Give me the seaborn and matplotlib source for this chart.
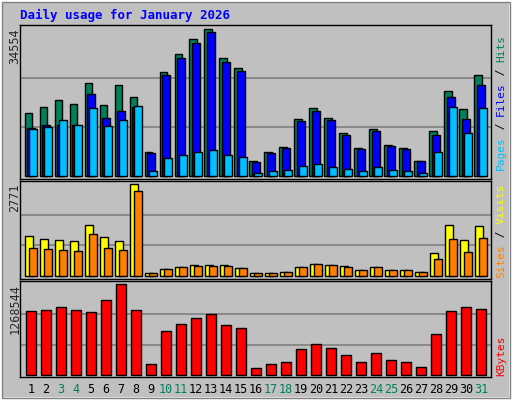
import numpy as np
import pandas as pd
import matplotlib
matplotlib.use("Agg")
import matplotlib.pyplot as plt
import seaborn as sns
from matplotlib.patches import Rectangle

days = list(range(1, 32))
weekend = [3, 4, 10, 11, 17, 18, 24, 25, 31]

hits = [14805, 16215, 17860, 16920, 21855, 16685, 21385, 18565, 5640, 24440, 28670, 32195, 34554, 27730, 25380,
        3525, 5640, 6815, 13395, 15980, 13630, 10105, 6580, 11045, 7285, 6580, 3525, 10575, 19975, 15745, 23735]
files = [11280, 11985, 11985, 11985, 19270, 13630, 15275, 16215, 5405, 23735, 27730, 31255, 33840, 26790, 24675,
         3290, 5405, 6580, 12925, 15275, 13160, 9635, 6345, 10575, 7050, 6345, 3525, 9635, 18565, 13395, 21385]
pages = [11045, 11515, 13160, 11985, 15980, 11750, 13160, 16450, 1175, 4230, 4935, 5640, 6110, 4935, 4465,
         705, 1175, 1410, 2350, 2820, 2115, 1645, 1175, 2115, 1410, 1175, 705, 5640, 16215, 10105, 15980]
sites = [1200, 1109, 1078, 1048, 1532, 1169, 1048, 2771, 81, 202, 262, 323, 323, 323, 232,
         81, 81, 111, 262, 353, 323, 292, 171, 262, 171, 171, 111, 685, 1532, 1078, 1502]
visits = [837, 806, 776, 746, 1260, 837, 776, 2560, 81, 202, 262, 292, 292, 292, 232,
          81, 81, 111, 262, 353, 323, 262, 171, 262, 171, 171, 111, 504, 1109, 716, 1139]
kbytes = [892000, 906000, 948000, 906000, 878000, 1046000, 1268544, 906000, 153000, 613000, 711000, 795000,
          850000, 697000, 655000, 98000, 153000, 181000, 362000, 432000, 376000, 279000, 181000, 307000,
          209000, 181000, 112000, 572000, 892000, 948000, 920000]

BG = "#c0c0c0"
sns.set_style("white")
plt.rcParams["font.family"] = ["DejaVu Sans Mono", "DejaVu Sans"]

fig = plt.figure(figsize=(5.12, 4.0), dpi=100, facecolor=BG)
# outer 3d border
fig.patches.append(Rectangle((0, 0), 1, 1, transform=fig.transFigure, fill=False, ec="white", lw=4))
fig.patches.append(Rectangle((0.004, 0.004), 0.992, 0.992, transform=fig.transFigure, fill=False, ec="#808080", lw=1))

W = 512.0
H = 400.0


def make_ax(top, bottom):
    ax = fig.add_axes([20 / W, (H - bottom) / H, 471 / W, (bottom - top) / H])
    ax.set_facecolor(BG)
    for s in ax.spines.values():
        s.set_color("black")
        s.set_linewidth(1)
    ax.set_xlim(0.267, 31.67)
    return ax


def draw(ax, vals, offset, width, color, zorder):
    df = pd.DataFrame({"x": [d + offset for d in days], "y": vals})
    sns.barplot(data=df, x="x", y="y", native_scale=True, width=width, color=color,
                edgecolor="black", linewidth=1, saturation=1, ax=ax, zorder=zorder, errorbar=None)


def grid(ax, vmax):
    for f in (1 / 3, 2 / 3):
        ax.axhline(vmax * f, color="#808080", lw=1.2, zorder=0)


# top panel
ax1 = make_ax(25, 179)
grid(ax1, 34554)
draw(ax1, hits, -0.167, 0.53, "#00805c", 2)
draw(ax1, files, 0.0, 0.53, "#0000ff", 3)
draw(ax1, pages, 0.133, 0.53, "#00c0ff", 4)
ax1.set_ylim(-3 * 235, 34554 + 4 * 235)

# middle panel
ax2 = make_ax(181, 279)
grid(ax2, 2771)
draw(ax2, sites, -0.133, 0.53, "#ffff00", 2)
draw(ax2, visits, 0.133, 0.53, "#ff8000", 3)
ax2.set_ylim(-3 * 30.1, 2771 + 3 * 30.1)

# bottom panel
ax3 = make_ax(281, 377)
grid(ax3, 1268544)
draw(ax3, kbytes, 0.0, 0.67, "#ff0000", 2)
ax3.set_ylim(-2 * 13940, 1268544 + 3 * 13940)

for ax in (ax1, ax2, ax3):
    ax.set_xlabel("")
    ax.set_ylabel("")
    ax.set_yticks([])
    ax.set_xticks([])

ax3.set_xticks(days)
ax3.set_xticklabels([str(d) for d in days], fontsize=8.5)
ax3.tick_params(axis="x", length=0, pad=4)
for lbl, d in zip(ax3.get_xticklabels(), days):
    lbl.set_color("#00805c" if d in weekend else "black")

# title
fig.text(20 / W, 1 - 15 / H, "Daily usage for January 2026", color="#0000ff",
         fontsize=9, fontweight="bold", va="center", ha="left")

# max labels on the left
for top, txt in ((28, "34554"), (184, "2771"), (284, "1268544")):
    fig.text(15 / W, 1 - top / H, txt, rotation=90, fontsize=8.5, va="top", ha="center")

renderer = fig.canvas.get_renderer()


# right side legends (stacked from bottom upward, measured)
def side_label(parts, bottom_px):
    y = bottom_px
    for txt, col in parts:
        t = fig.text(501 / W, 1 - y / H, txt, rotation=90, color=col, fontsize=8,
                     va="bottom", ha="center")
        ext = t.get_window_extent(renderer)
        y -= ext.height


side_label([("Pages", "#00c0ff"), (" / ", "black"), ("Files", "#0000ff"), (" / ", "black"),
            ("Hits", "#00805c")], 170)
side_label([("Sites", "#ff8000"), (" / ", "black"), ("Visits", "#ffff00")], 278)
side_label([("KBytes", "#ff0000")], 376)

fig.savefig("out.png", dpi=100, facecolor=BG)
